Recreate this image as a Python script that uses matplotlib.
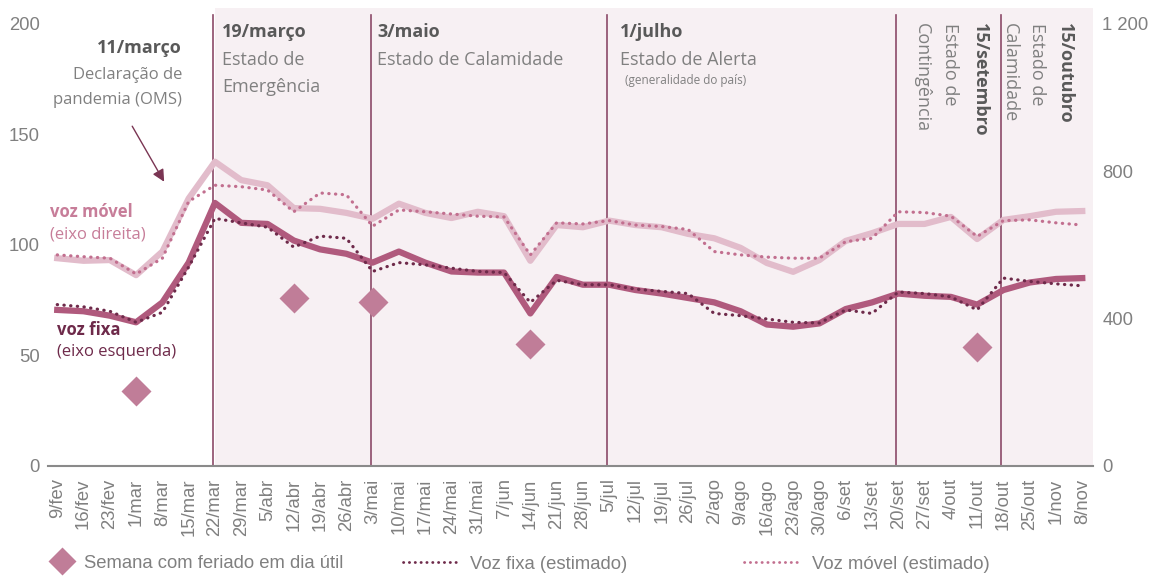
import matplotlib
matplotlib.use("Agg")
import matplotlib.pyplot as plt
from matplotlib.lines import Line2D

plt.rcParams['font.family'] = ['Liberation Sans', 'DejaVu Sans']

# semanas (fim de semana)
semanas = ['9/fev', '16/fev', '23/fev', '1/mar', '8/mar', '15/mar', '22/mar', '29/mar',
           '5/abr', '12/abr', '19/abr', '26/abr', '3/mai', '10/mai', '17/mai', '24/mai',
           '31/mai', '7/jun', '14/jun', '21/jun', '28/jun', '5/jul', '12/jul', '19/jul',
           '26/jul', '2/ago', '9/ago', '16/ago', '23/ago', '30/ago', '6/set', '13/set',
           '20/set', '27/set', '4/out', '11/out', '18/out', '25/out', '1/nov', '8/nov']

voz_fixa = [70.6, 70, 68, 65, 74, 92, 119, 110, 109.5, 102, 98, 96, 92, 97, 92, 88,
            87.5, 87.5, 69, 85.5, 82, 82, 79.6, 78, 76, 74, 70, 64, 63, 64.5, 71, 74,
            78, 77, 76.5, 73, 79.6, 83, 84.6, 85]
voz_fixa_est = [73, 72, 70, 65, 69.5, 90, 112, 110, 108, 99, 104, 103, 88, 92, 91, 89.5,
                88, 87.5, 74, 84, 82, 82, 80, 79, 78, 69, 68, 66.5, 65, 64.7, 70.6, 69,
                78.7, 78, 76.5, 70.6, 85, 83.5, 82.4, 81.5]
voz_movel = [564, 557, 559, 518, 582, 726, 826, 776, 762, 700, 698, 687, 671, 712, 687, 673,
             690, 678, 557, 654, 648, 666, 654, 648, 630, 618, 592, 551, 527, 559, 611, 632,
             657, 657, 676, 616, 668, 678, 690, 692]
voz_movel_est = [573, 568, 564, 521, 564, 718, 762, 758, 749, 690, 741, 736, 651, 695, 690, 684,
                 678, 676, 573, 660, 657, 666, 654, 650, 642, 582, 573, 567, 564, 564, 609, 618,
                 690, 688, 678, 623, 666, 668, 660, 654]

feriado_semanas = ['1/mar', '12/abr', '3/mai', '14/jun', '11/out']
feriado_val = [34, 76, 74, 55, 54]

marcos = ['22/mar', '3/mai', '5/jul', '20/set', '18/out']

c_fixa = '#b05a7d'
c_fixa_est = '#6e2a4a'
c_movel = '#e2bccb'
c_movel_est = '#c26f8f'
c_feriado = '#c07d98'
c_linha = '#8c4a68'
c_sombra = '#f7f0f3'
c_cinza = '#808080'
c_escuro = '#595959'

x = list(range(len(semanas)))
ann_font = 'Open Sans'

fig = plt.figure(figsize=(11.66, 5.77), dpi=100)
ax = fig.add_axes([0.0412, 0.1924, 0.896, 0.7938])
ax2 = ax.twinx()

xmax = len(semanas) - 1 + 0.4
ax.set_xlim(-0.35, xmax)
ax.set_ylim(0, 207.2)
ax2.set_ylim(0, 207.2 * 6)

inicio = semanas.index(marcos[0])
ax.axvspan(inicio, xmax, color=c_sombra, zorder=0, lw=0)
for m in marcos:
    ax.axvline(semanas.index(m) - 0.08, ymax=0.985, color=c_linha, lw=1.2, zorder=1)

ax2.patch.set_visible(False)
ax2.plot(x, voz_movel, color=c_movel, lw=4.5, zorder=2)
ax2.plot(x, voz_movel_est, color=c_movel_est, lw=2.3, ls=(0, (0.1, 2.0)),
         dash_capstyle='round', zorder=3)
# voz fixa no eixo esquerdo (escala x6 no eixo direito)
ax2.plot(x, [v * 6 for v in voz_fixa], color=c_fixa, lw=4.5, zorder=4)
ax2.plot(x, [v * 6 for v in voz_fixa_est], color=c_fixa_est, lw=2.3, ls=(0, (0.1, 2.0)),
         dash_capstyle='round', zorder=5)
ax2.plot([semanas.index(s) for s in feriado_semanas], [v * 6 for v in feriado_val], 'D',
         color=c_feriado, ms=15, mec='none', zorder=6)

for a in (ax, ax2):
    for s in ['top', 'left', 'right', 'bottom']:
        a.spines[s].set_visible(False)
    a.tick_params(length=0, labelcolor=c_cinza, labelsize=13.3)
ax.spines['bottom'].set_visible(True)
ax.spines['bottom'].set_color('#8a8a8a')
ax.spines['bottom'].set_linewidth(1.5)
ax.spines['bottom'].set_zorder(7)

ax.set_yticks([0, 50, 100, 150, 200])
ax2.set_yticks([0, 400, 800, 1200], ['0', '400', '800', '1 200'])
ax.tick_params(axis='y', pad=6)
ax2.tick_params(axis='y', pad=7)
ax.set_xticks(x, semanas, rotation=90)
ax.tick_params(axis='x', pad=9)

# anotacoes
def txt(xp, yp, s, bold=False, size=13, color=None, **kw):
    ax.text(xp, yp, s, fontfamily=ann_font, fontsize=size,
            fontweight='bold' if bold else 'normal',
            color=color or (c_escuro if bold else c_cinza), va='center', zorder=8, **kw)

txt(4.75, 189.1, '11/março', bold=True, ha='right')
txt(4.75, 176.9, 'Declaração de', size=12, ha='right')
txt(4.75, 165.6, 'pandemia (OMS)', size=12, ha='right')
ax.annotate('', xy=(4.12, 127.5), xytext=(2.8, 154.8),
            arrowprops=dict(arrowstyle='-|>', color='#7a3553', lw=1, mutation_scale=18))

txt(6.27, 196.4, '19/março', bold=True)
txt(6.27, 183.7, 'Estado de')
txt(6.27, 171.5, 'Emergência')
txt(12.17, 196.4, '3/maio', bold=True)
txt(12.17, 183.7, 'Estado de Calamidade')
txt(21.4, 196.4, '1/julho', bold=True)
txt(21.4, 183.7, 'Estado de Alerta')
txt(21.6, 174.2, '(generalidade do país)', size=8.5)

def vtxt(xp, s, bold=False):
    ax.text(xp, 200.5, s, fontfamily=ann_font, fontsize=13,
            fontweight='bold' if bold else 'normal',
            color=c_escuro if bold else c_cinza, rotation=270,
            ha='center', va='top', zorder=8)

vtxt(35.09, '15/setembro', bold=True)
vtxt(33.95, 'Estado de')
vtxt(32.89, 'Contingência')
vtxt(38.33, '15/outubro', bold=True)
vtxt(37.26, 'Estado de')
vtxt(36.24, 'Calamidade')

txt(-0.27, 114.9, 'voz móvel', bold=True, color='#c77d99', size=12)
txt(-0.27, 104.5, '(eixo direita)', color='#c77d99', size=12)
txt(0.0, 61.5, 'voz fixa', bold=True, color=c_fixa_est, size=12)
txt(0.0, 51.6, '(eixo esquerda)', color=c_fixa_est, size=12)

# legenda
leg_kw = dict(frameon=False, labelcolor=c_cinza,
              prop={'family': 'Liberation Sans', 'size': 13.3})
h1 = Line2D([], [], ls='none', marker='D', ms=14, color=c_feriado, mec='none')
fig.legend([h1], ['Semana com feriado em dia útil'], loc='center left',
           bbox_to_anchor=(0.028, 0.024), handlelength=1.4, handletextpad=0.5, **leg_kw)
h2 = Line2D([], [], color=c_fixa_est, lw=2, ls=(0, (0.1, 2.0)), dash_capstyle='round')
fig.legend([h2], ['Voz fixa (estimado)'], loc='center left',
           bbox_to_anchor=(0.331, 0.022), handlelength=3.1, handletextpad=0.55, **leg_kw)
h3 = Line2D([], [], color=c_movel_est, lw=2, ls=(0, (0.1, 2.0)), dash_capstyle='round')
fig.legend([h3], ['Voz móvel (estimado)'], loc='center left',
           bbox_to_anchor=(0.624, 0.022), handlelength=3.1, handletextpad=0.55, **leg_kw)

fig.savefig('out.png', dpi=100)
